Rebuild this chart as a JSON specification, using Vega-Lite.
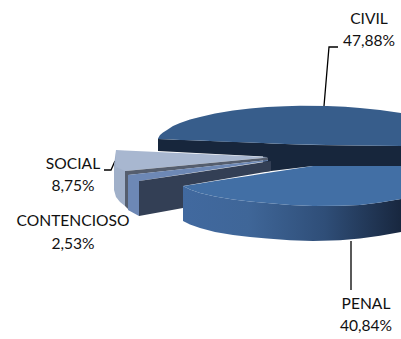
{"$schema":"https://vega.github.io/schema/vega-lite/v6.json","width":401,"height":339,"padding":0,"autosize":{"type":"none"},"background":"white","view":{"stroke":null},
"datasets":{"shapes":[
{"p":"civilSide","x":158,"t":139,"b":151},{"p":"civilSide","x":263,"t":143,"b":156.6},{"p":"civilSide","x":263.1,"t":143,"b":172},{"p":"civilSide","x":271.1,"t":143.4,"b":171},{"p":"civilSide","x":313,"t":145,"b":166},{"p":"civilSide","x":401,"t":146,"b":166},
{"p":"civilTop","x":158,"t":138.5,"b":139},{"p":"civilTop","x":160,"t":135,"b":139.1},{"p":"civilTop","x":163,"t":132.5,"b":139.2},{"p":"civilTop","x":167,"t":130,"b":139.3},{"p":"civilTop","x":173,"t":126,"b":139.6},{"p":"civilTop","x":180,"t":123,"b":139.9},{"p":"civilTop","x":190,"t":119.5,"b":140.2},{"p":"civilTop","x":200,"t":117,"b":140.6},{"p":"civilTop","x":215,"t":113.5,"b":141.2},{"p":"civilTop","x":233,"t":110.5,"b":141.9},{"p":"civilTop","x":250,"t":108.5,"b":142.5},{"p":"civilTop","x":267,"t":107,"b":143.2},{"p":"civilTop","x":285,"t":106.2,"b":144},{"p":"civilTop","x":300,"t":105.8,"b":144.5},{"p":"civilTop","x":327,"t":106,"b":145},{"p":"civilTop","x":345,"t":106.8,"b":145.2},{"p":"civilTop","x":360,"t":108,"b":145.5},{"p":"civilTop","x":380,"t":110,"b":145.8},{"p":"civilTop","x":401,"t":113,"b":146},
{"p":"socialTop","x":116,"t":150,"b":167},{"p":"socialTop","x":125,"t":150.4,"b":171},{"p":"socialTop","x":267,"t":157,"b":157.5},
{"p":"socialSide","x":114,"t":165,"b":190},{"p":"socialSide","x":116,"t":150,"b":197},{"p":"socialSide","x":120,"t":152,"b":202},{"p":"socialSide","x":125,"t":170,"b":206},
{"p":"grey","x":125,"t":171,"b":206},{"p":"grey","x":128,"t":170.7,"b":209},{"p":"grey","x":128.1,"t":170.7,"b":175},{"p":"grey","x":268,"t":157.5,"b":160},
{"p":"contTop","x":128,"t":175,"b":210},{"p":"contTop","x":139,"t":173.8,"b":216},{"p":"contTop","x":139.1,"t":173.8,"b":181},{"p":"contTop","x":268,"t":160,"b":161},
{"p":"contSide","x":139,"t":181,"b":216},{"p":"contSide","x":183,"t":174.4,"b":208},{"p":"contSide","x":183.1,"t":174.4,"b":186},{"p":"contSide","x":271,"t":161,"b":171},
{"p":"penalSide","x":183,"t":186,"b":221},{"p":"penalSide","x":190,"t":189.5,"b":224.5},{"p":"penalSide","x":200,"t":193,"b":228},{"p":"penalSide","x":215,"t":196.5,"b":232},{"p":"penalSide","x":233,"t":199.5,"b":235},{"p":"penalSide","x":250,"t":201.5,"b":237},{"p":"penalSide","x":267,"t":203,"b":238.5},{"p":"penalSide","x":290,"t":205,"b":240.3},{"p":"penalSide","x":313,"t":206,"b":241},{"p":"penalSide","x":340,"t":205.8,"b":240.2},{"p":"penalSide","x":360,"t":205,"b":238.5},{"p":"penalSide","x":380,"t":202.5,"b":235.8},{"p":"penalSide","x":401,"t":199,"b":232},
{"p":"penalTop","x":183,"t":186,"b":186},{"p":"penalTop","x":190,"t":184.9,"b":189.5},{"p":"penalTop","x":200,"t":183.4,"b":193},{"p":"penalTop","x":215,"t":181,"b":196.5},{"p":"penalTop","x":233,"t":178.3,"b":199.5},{"p":"penalTop","x":250,"t":175.7,"b":201.5},{"p":"penalTop","x":267,"t":173.1,"b":203},{"p":"penalTop","x":290,"t":169.5,"b":205},{"p":"penalTop","x":313,"t":166,"b":206},{"p":"penalTop","x":340,"t":166,"b":205.8},{"p":"penalTop","x":360,"t":166,"b":205},{"p":"penalTop","x":380,"t":166,"b":202.5},{"p":"penalTop","x":401,"t":166,"b":199}
],
"labels":[
{"name":"CIVIL","share":"47,88%","x":369,"yn":19,"ys":41},
{"name":"PENAL","share":"40,84%","x":366,"yn":304,"ys":326},
{"name":"SOCIAL","share":"8,75%","x":73,"yn":164,"ys":186},
{"name":"CONTENCIOSO","share":"2,53%","x":73,"yn":221,"ys":244}],
"leaders":[
{"l":"CIVIL","i":1,"x":324,"y":106},{"l":"CIVIL","i":2,"x":329,"y":47},{"l":"CIVIL","i":3,"x":338,"y":47},
{"l":"PENAL","i":1,"x":351,"y":241},{"l":"PENAL","i":2,"x":351,"y":290},
{"l":"SOCIAL","i":1,"x":104,"y":170},{"l":"SOCIAL","i":2,"x":111,"y":170},{"l":"SOCIAL","i":3,"x":115,"y":161}]},
"encoding":{"x":{"field":"x","type":"quantitative","scale":{"domain":[0,401]},"axis":null}},
"layer":[
{"data":{"name":"leaders"},"mark":{"type":"line","color":"black","strokeWidth":1.3},"encoding":{"y":{"field":"y","type":"quantitative","scale":{"domain":[339,0]},"axis":null},"detail":{"field":"l"},"order":{"field":"i"}}},
{"data":{"name":"shapes"},"transform":[{"filter":"datum.p==='civilSide'"}],"mark":{"type":"area","color":"#17263c"},"encoding":{"y":{"field":"t","type":"quantitative","scale":{"domain":[339,0]},"axis":null,"stack":null},"y2":{"field":"b"}}},
{"data":{"name":"shapes"},"transform":[{"filter":"datum.p==='civilTop'"}],"mark":{"type":"area","color":"#375d8b"},"encoding":{"y":{"field":"t","type":"quantitative","scale":{"domain":[339,0]},"axis":null,"stack":null},"y2":{"field":"b"}}},
{"data":{"name":"shapes"},"transform":[{"filter":"datum.p==='socialSide'"}],"mark":{"type":"area","color":"#a0b0c9"},"encoding":{"y":{"field":"t","type":"quantitative","scale":{"domain":[339,0]},"axis":null,"stack":null},"y2":{"field":"b"}}},
{"data":{"name":"shapes"},"transform":[{"filter":"datum.p==='socialTop'"}],"mark":{"type":"area","color":"#a8b7d0"},"encoding":{"y":{"field":"t","type":"quantitative","scale":{"domain":[339,0]},"axis":null,"stack":null},"y2":{"field":"b"}}},
{"data":{"name":"shapes"},"transform":[{"filter":"datum.p==='grey'"}],"mark":{"type":"area","color":"#555e6e"},"encoding":{"y":{"field":"t","type":"quantitative","scale":{"domain":[339,0]},"axis":null,"stack":null},"y2":{"field":"b"}}},
{"data":{"name":"shapes"},"transform":[{"filter":"datum.p==='contTop'"}],"mark":{"type":"area","color":"#6d88b5"},"encoding":{"y":{"field":"t","type":"quantitative","scale":{"domain":[339,0]},"axis":null,"stack":null},"y2":{"field":"b"}}},
{"data":{"name":"shapes"},"transform":[{"filter":"datum.p==='contSide'"}],"mark":{"type":"area","color":"#333f55"},"encoding":{"y":{"field":"t","type":"quantitative","scale":{"domain":[339,0]},"axis":null,"stack":null},"y2":{"field":"b"}}},
{"data":{"name":"shapes"},"transform":[{"filter":"datum.p==='penalSide'"}],"mark":{"type":"area","color":{"gradient":"linear","x1":0,"x2":1,"y1":0,"y2":0,"stops":[{"offset":0,"color":"#41699f"},{"offset":0.3,"color":"#3f6698"},{"offset":0.65,"color":"#2f4e78"},{"offset":1,"color":"#18273f"}]}},"encoding":{"y":{"field":"t","type":"quantitative","scale":{"domain":[339,0]},"axis":null,"stack":null},"y2":{"field":"b"}}},
{"data":{"name":"shapes"},"transform":[{"filter":"datum.p==='penalTop'"}],"mark":{"type":"area","color":"#426fa5"},"encoding":{"y":{"field":"t","type":"quantitative","scale":{"domain":[339,0]},"axis":null,"stack":null},"y2":{"field":"b"}}},
{"data":{"name":"labels"},"mark":{"type":"text","font":"Lato","fontSize":15.6,"color":"#111111","align":"center","baseline":"middle"},"encoding":{"y":{"field":"yn","type":"quantitative","scale":{"domain":[339,0]},"axis":null},"text":{"field":"name"}}},
{"data":{"name":"labels"},"mark":{"type":"text","font":"Lato","fontSize":15.6,"color":"#111111","align":"center","baseline":"middle"},"encoding":{"y":{"field":"ys","type":"quantitative","scale":{"domain":[339,0]},"axis":null},"text":{"field":"share"}}}
]}
